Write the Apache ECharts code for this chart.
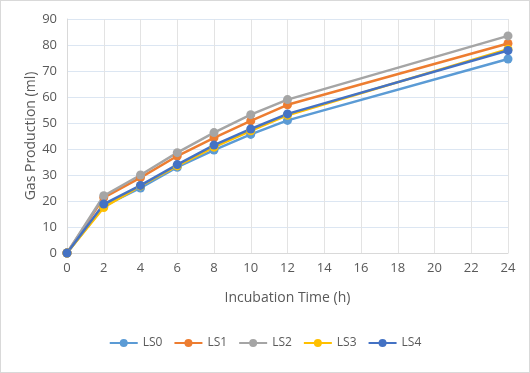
<!DOCTYPE html>
<html><head><meta charset="utf-8">
<script src="https://cdn.jsdelivr.net/npm/echarts@6/dist/echarts.min.js"></script>
<style>html,body{margin:0;padding:0;background:#fff;}#c{width:530px;height:373px;box-sizing:border-box;border:1px solid #D9D9D9;}</style>
</head><body><div id="c"></div>
<script>
const times = [0, 2, 4, 6, 8, 10, 12, 24];
const seriesNames = ['LS0', 'LS1', 'LS2', 'LS3', 'LS4'];
const LS0 = [0, 18, 25, 33, 39.6, 45.6, 51, 74.6];
const LS1 = [0, 21.3, 29, 37.3, 44.3, 50.8, 57, 80.6];
const LS2 = [0, 22, 30, 38.6, 46.3, 53.2, 59, 83.5];
const LS3 = [0, 17.5, 25.8, 33.5, 40.7, 47, 53, 78.4];
const LS4 = [0, 18.8, 26, 34, 41.5, 47.7, 53.5, 77.9];
const colors = ['#5B9BD5', '#ED7D31', '#A5A5A5', '#FFC000', '#4472C4'];
const values = [LS0, LS1, LS2, LS3, LS4];
const font = '"Open Sans", "Liberation Sans", sans-serif';
const chart = echarts.init(document.getElementById('c'));
chart.setOption({
  animation: false,
  color: colors,
  grid: {left: 66, right: 21, top: 18, bottom: 119},
  legend: {
    bottom: 18, left: 'center', itemWidth: 28, itemHeight: 10, itemGap: 11,
    textStyle: {color: '#595959', fontSize: 12, fontFamily: font},
    data: seriesNames
  },
  xAxis: {
    type: 'value', min: 0, max: 24, interval: 2,
    name: 'Incubation Time (h)', nameLocation: 'middle', nameGap: 38,
    nameTextStyle: {color: '#595959', fontSize: 14, fontFamily: font},
    axisLine: {show: true, lineStyle: {color: '#D9D9D9'}},
    axisTick: {show: false},
    axisLabel: {color: '#595959', fontSize: 13, fontFamily: font, margin: 9},
    splitLine: {show: true, lineStyle: {color: '#E3E3E3'}}
  },
  yAxis: {
    type: 'value', min: 0, max: 90, interval: 10,
    name: 'Gas Production (ml)', nameLocation: 'middle', nameGap: 29,
    nameMoveOverlap: false,
    nameTextStyle: {color: '#595959', fontSize: 14, fontFamily: font},
    axisLine: {show: true, lineStyle: {color: '#D9D9D9'}},
    axisTick: {show: false},
    axisLabel: {color: '#595959', fontSize: 13, fontFamily: font, margin: 10},
    splitLine: {show: true, lineStyle: {color: '#DCE6F2'}}
  },
  series: seriesNames.map((n, i) => ({
    name: n, type: 'line',
    data: times.map((t, j) => [t, values[i][j]]),
    symbol: 'circle', symbolSize: 9,
    lineStyle: {width: 2.5, color: colors[i]},
    itemStyle: {color: colors[i]}
  }))
});
</script></body></html>
